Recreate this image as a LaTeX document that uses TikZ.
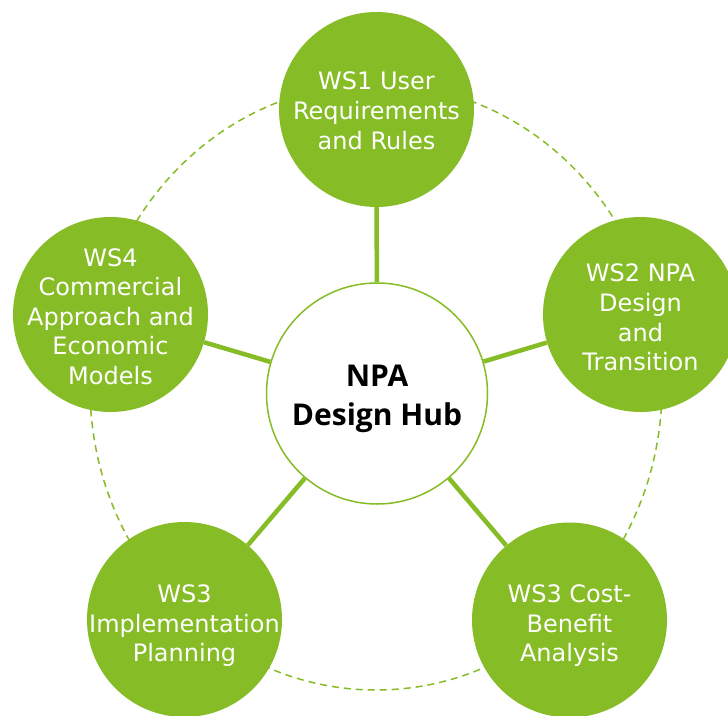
\documentclass[tikz,border=0pt]{standalone}
\usepackage{fontspec}
\setmainfont{DejaVu Sans}
\newfontfamily\hubfont{Open Sans}
\definecolor{npagreen}{RGB}{134,188,37}
\tikzset{
  ws/.style={circle, fill=npagreen, minimum size=195pt, inner sep=0pt},
  hubnode/.style={circle, draw=npagreen, line width=1.5pt, fill=white, minimum size=221pt, inner sep=0pt},
  conn/.style={draw=npagreen, line width=4.5pt},
  ring/.style={draw=npagreen, line width=1.5pt, dash pattern=on 7pt off 5pt},
  wstext/.style={text=white, align=center, inner sep=0pt, font=\fontsize{24}{29.6}\selectfont},
  hubtext/.style={text=black, align=center, inner sep=0pt, font=\hubfont\bfseries\fontsize{30}{39}\selectfont}
}
\begin{document}
\begin{tikzpicture}[x=1pt,y=-1pt]
\useasboundingbox (0,0) rectangle (728,715);
\fill[white] (0,0) rectangle (728,715);
\draw[ring] (376,387) ellipse [x radius=286pt, y radius=303pt];
\node[ws] (w1) at (376.5,109.5) {};
\node[ws] (w2) at (640.5,314.5) {};
\node[ws] (w3) at (569.5,620) {};
\node[ws] (w5) at (184.5,619.5) {};
\node[ws] (w4) at (110.5,314.5) {};
\node[hubnode] (hub) at (377,393.5) {};
\draw[conn] (hub) -- (w1);
\draw[conn] (hub) -- (w2);
\draw[conn] (hub) -- (w3);
\draw[conn] (hub) -- (w5);
\draw[conn] (hub) -- (w4);
\node[wstext] (t1) at ([yshift=-1.3pt]w1.center) {WS1 User\\Requirements\\and Rules};
\node[wstext] (t2) at ([yshift=-3.1pt]w2.center) {WS2 NPA\\Design\\and\\Transition};
\node[wstext] (t3) at ([yshift=-5.7pt]w3.center) {WS3 Cost-\\Benefit\\Analysis};
\node[wstext] (t5) at ([yshift=-6.2pt]w5.center) {WS3\\Implementation\\Planning};
\node[wstext] (t4) at ([yshift=-2pt]w4.center) {WS4\\Commercial\\Approach and\\Economic\\Models};
\node[hubtext] (ht) at ([yshift=-4.9pt]hub.center) {NPA\\Design Hub};
\end{tikzpicture}
\end{document}
